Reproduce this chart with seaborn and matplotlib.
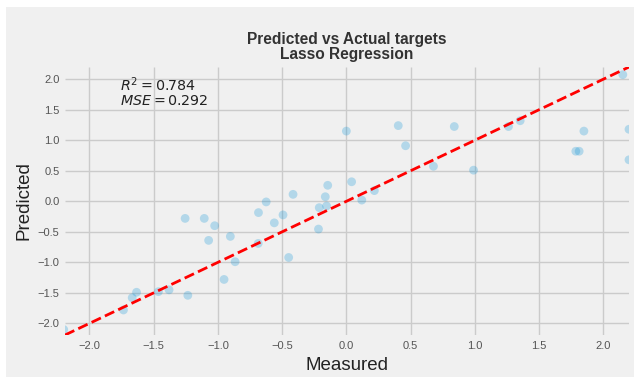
import matplotlib
matplotlib.use("Agg")
import matplotlib.pyplot as plt
import seaborn as sns
import pandas as pd
from matplotlib.patches import Rectangle

measured = [-2.20, -1.735, -1.667, -1.633, -1.463, -1.38, -1.234, -1.255, -1.106, -1.025,
            -1.072, -0.952, -0.903, -0.866, -0.686, -0.684, -0.624, -0.561, -0.493, -0.415,
            -0.449, -0.217, -0.211, -0.154, -0.164, -0.145, 0.041, 0.218, 0.12, 0.0,
            0.404, 0.461, 0.84, 0.678, 0.99, 1.262, 1.353, 1.849, 1.786, 1.812,
            2.152, 2.20, 2.20]
predicted = [-2.10, -1.78, -1.58, -1.49, -1.48, -1.45, -1.54, -0.28, -0.28, -0.40,
             -0.64, -1.28, -0.575, -0.99, -0.69, -0.185, -0.01, -0.353, -0.223, 0.114,
             -0.92, -0.455, -0.104, -0.077, 0.075, 0.262, 0.32, 0.175, 0.02, 1.15,
             1.24, 0.91, 1.225, 0.574, 0.51, 1.225, 1.32, 1.15, 0.82, 0.82,
             2.075, 1.18, 0.68]
limits = [-2.19, 2.2]
title = "Predicted vs Actual targets\nLasso Regression"
r2_text = "$R^2 = 0.784$\n$MSE = 0.292$"

df = pd.DataFrame({"Measured": measured, "Predicted": predicted})

plt.style.use("fivethirtyeight")
plt.rcParams["font.family"] = ["Liberation Sans", "DejaVu Sans"]

fig = plt.figure(figsize=(6.34, 3.77), dpi=100, facecolor="white")
fig.patches.append(Rectangle((6 / 634, 0), 1, 1 - 7 / 377, transform=fig.transFigure,
                             facecolor="#f0f0f0", edgecolor="none", zorder=-10))
ax = fig.add_axes([65 / 634, 1 - 335 / 377, (629 - 65) / 634, (335 - 67) / 377])
ax.set_facecolor("#f0f0f0")

sns.scatterplot(data=df, x="Measured", y="Predicted", ax=ax, color="#008fd5",
                alpha=0.25, s=40, edgecolor="none", zorder=3)
ax.plot(limits, limits, "--", color="red", lw=2, zorder=4)

ax.set_xlim(limits)
ax.set_ylim(limits)
ax.set_xticks([-2.0, -1.5, -1.0, -0.5, 0.0, 0.5, 1.0, 1.5, 2.0])
ax.set_yticks([-2.0, -1.5, -1.0, -0.5, 0.0, 0.5, 1.0, 1.5, 2.0])
ax.grid(True, color="#cbcbcb", lw=1)
for s in ax.spines.values():
    s.set_visible(False)
ax.tick_params(axis="both", labelsize=8, labelcolor="#555555", length=0, pad=4)
ax.set_xlabel("Measured", fontsize=13.5, color="#222222", labelpad=5)
ax.set_ylabel("Predicted", fontsize=13.5, color="#222222", labelpad=4)
ax.set_title(title, fontsize=11.2, fontweight="bold", color="#333333", pad=6,
             linespacing=1.0)
ax.text(0.098, 0.97, r2_text, transform=ax.transAxes, va="top", ha="left",
        fontsize=10.3, color="#222222", family="DejaVu Sans", linespacing=1.0)

fig.savefig("out.png", dpi=100, facecolor=fig.get_facecolor())
